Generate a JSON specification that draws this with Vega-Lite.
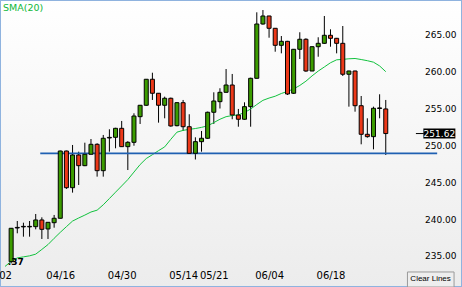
{
  "$schema": "https://vega.github.io/schema/vega-lite/v6.json",
  "width": 462,
  "height": 287,
  "autosize": {"type": "none"},
  "padding": 0,
  "background": "#ffffff",
  "title": {"text": "SMA(20)", "anchor": "start", "frame": "group", "orient": "top", "offset": -12, "dx": 3, "color": "#10b83a", "font": "DejaVu Sans", "fontSize": 9.5, "fontWeight": "normal"},
  "config": {
    "view": {"stroke": "#8fb3df", "strokeWidth": 2, "fill": {"gradient": "linear", "x1": 0, "y1": 0, "x2": 0, "y2": 1, "stops": [{"offset": 0, "color": "#ffffff"}, {"offset": 1, "color": "#ececec"}]}},
    "axis": {"title": null, "domain": false, "ticks": false, "tickSize": 0, "grid": false, "labelColor": "#000000", "labelFont": "DejaVu Sans", "labelOverlap": false, "labelBound": false}
  },
  "datasets": {
    "candles": [
      {"i":0,"open":234.23,"high":238.8,"low":234.0,"close":238.76},
      {"i":1,"open":238.80,"high":239.75,"low":238.08,"close":238.88},
      {"i":2,"open":238.95,"high":239.52,"low":237.62,"close":239.02},
      {"i":3,"open":238.95,"high":239.75,"low":237.62,"close":239.02},
      {"i":4,"open":238.98,"high":240.70,"low":238.62,"close":239.89},
      {"i":5,"open":239.89,"high":240.25,"low":237.31,"close":238.62},
      {"i":6,"open":238.67,"high":239.6,"low":237.31,"close":239.57},
      {"i":7,"open":239.52,"high":240.57,"low":238.84,"close":240.12},
      {"i":8,"open":240.12,"high":249.3,"low":240.1,"close":249.25},
      {"i":9,"open":249.25,"high":249.3,"low":244.1,"close":244.27},
      {"i":10,"open":244.27,"high":250.07,"low":243.6,"close":248.71},
      {"i":11,"open":248.71,"high":249.16,"low":244.64,"close":247.26},
      {"i":12,"open":247.26,"high":250.38,"low":247.2,"close":248.81},
      {"i":13,"open":248.81,"high":250.88,"low":248.8,"close":250.16},
      {"i":14,"open":250.16,"high":250.30,"low":245.77,"close":246.58},
      {"i":15,"open":246.58,"high":251.43,"low":245.77,"close":250.98},
      {"i":16,"open":251.02,"high":252.2,"low":249.16,"close":251.10},
      {"i":17,"open":251.11,"high":252.4,"low":249.62,"close":252.33},
      {"i":18,"open":252.33,"high":253.33,"low":249.8,"close":249.84},
      {"i":19,"open":249.84,"high":250.59,"low":246.67,"close":250.43},
      {"i":20,"open":250.43,"high":254.37,"low":249.97,"close":254.0},
      {"i":21,"open":253.91,"high":255.5,"low":252.92,"close":255.46},
      {"i":22,"open":255.46,"high":259.0,"low":255.4,"close":258.99},
      {"i":23,"open":258.99,"high":259.88,"low":256.18,"close":257.09},
      {"i":24,"open":257.09,"high":257.1,"low":253.10,"close":255.46},
      {"i":25,"open":255.46,"high":256.63,"low":253.69,"close":256.41},
      {"i":26,"open":256.41,"high":256.5,"low":252.55,"close":252.65},
      {"i":27,"open":252.69,"high":255.9,"low":252.6,"close":255.81},
      {"i":28,"open":255.81,"high":256.18,"low":251.97,"close":252.55},
      {"i":29,"open":252.55,"high":254.24,"low":248.9,"close":248.94},
      {"i":30,"open":248.94,"high":251.11,"low":248.10,"close":250.52},
      {"i":31,"open":250.52,"high":251.97,"low":249.16,"close":250.98},
      {"i":32,"open":250.98,"high":254.6,"low":250.9,"close":254.51},
      {"i":33,"open":254.51,"high":257.22,"low":252.92,"close":256.04},
      {"i":34,"open":255.95,"high":257.77,"low":255.02,"close":257.22},
      {"i":35,"open":257.22,"high":260.38,"low":257.2,"close":258.21},
      {"i":36,"open":258.21,"high":259.71,"low":253.56,"close":254.14},
      {"i":37,"open":254.14,"high":254.96,"low":252.55,"close":253.56},
      {"i":38,"open":253.56,"high":255.86,"low":253.5,"close":255.27},
      {"i":39,"open":255.27,"high":259.2,"low":252.55,"close":259.12},
      {"i":40,"open":259.12,"high":268.08,"low":259.1,"close":266.49},
      {"i":41,"open":266.49,"high":268.39,"low":266.4,"close":267.58},
      {"i":42,"open":267.58,"high":267.6,"low":264.63,"close":265.91},
      {"i":43,"open":265.91,"high":265.95,"low":262.73,"close":263.60},
      {"i":44,"open":263.60,"high":264.86,"low":262.51,"close":264.14},
      {"i":45,"open":264.14,"high":264.2,"low":256.86,"close":256.99},
      {"i":46,"open":257.09,"high":263.1,"low":257.0,"close":263.06},
      {"i":47,"open":263.06,"high":265.37,"low":261.74,"close":264.42},
      {"i":48,"open":264.42,"high":264.55,"low":260.0,"close":260.11},
      {"i":49,"open":260.11,"high":263.45,"low":260.1,"close":263.41},
      {"i":50,"open":263.41,"high":264.69,"low":262.05,"close":263.87},
      {"i":51,"open":263.87,"high":267.58,"low":263.8,"close":264.96},
      {"i":52,"open":264.96,"high":265.77,"low":263.41,"close":264.55},
      {"i":53,"open":264.55,"high":264.6,"low":262.51,"close":263.87},
      {"i":54,"open":263.87,"high":266.22,"low":259.43,"close":259.67},
      {"i":55,"open":259.67,"high":260.15,"low":255.27,"close":260.11},
      {"i":56,"open":260.11,"high":260.15,"low":254.59,"close":255.40},
      {"i":57,"open":255.40,"high":256.72,"low":250.16,"close":251.52},
      {"i":58,"open":251.52,"high":253.69,"low":251.06,"close":251.20},
      {"i":59,"open":251.20,"high":255.27,"low":249.48,"close":255.05},
      {"i":60,"open":255.02,"high":256.95,"low":253.69,"close":255.10},
      {"i":61,"open":254.96,"high":256.18,"low":248.71,"close":251.62}
    ],
    "sma": [
      {"i":-1,"sma":233.58},{"i":0,"sma":234.27},{"i":1,"sma":234.74},{"i":2,"sma":234.88},{"i":3,"sma":235.02},
      {"i":4,"sma":235.25},{"i":5,"sma":235.89},{"i":6,"sma":236.55},{"i":7,"sma":237.40},{"i":8,"sma":238.21},
      {"i":9,"sma":238.98},{"i":10,"sma":239.74},{"i":11,"sma":240.16},{"i":12,"sma":240.55},{"i":13,"sma":240.97},
      {"i":14,"sma":241.22},{"i":15,"sma":241.95},{"i":16,"sma":242.80},{"i":17,"sma":243.66},{"i":18,"sma":244.51},
      {"i":19,"sma":245.37},{"i":20,"sma":246.39},{"i":21,"sma":247.41},{"i":22,"sma":248.23},{"i":23,"sma":248.75},
      {"i":24,"sma":249.30},{"i":25,"sma":249.81},{"i":26,"sma":250.84},{"i":27,"sma":251.81},{"i":28,"sma":252.05},
      {"i":29,"sma":252.19},{"i":30,"sma":252.30},{"i":31,"sma":252.46},{"i":32,"sma":252.67},{"i":33,"sma":253.11},
      {"i":34,"sma":253.56},{"i":35,"sma":253.91},{"i":36,"sma":254.07},{"i":37,"sma":254.14},{"i":38,"sma":254.48},
      {"i":39,"sma":254.95},{"i":40,"sma":255.56},{"i":41,"sma":256.13},{"i":42,"sma":256.44},{"i":43,"sma":256.69},
      {"i":44,"sma":257.06},{"i":45,"sma":257.34},{"i":46,"sma":257.68},{"i":47,"sma":258.15},{"i":48,"sma":258.73},
      {"i":49,"sma":259.45},{"i":50,"sma":260.10},{"i":51,"sma":260.66},{"i":52,"sma":261.23},{"i":53,"sma":261.63},
      {"i":54,"sma":261.69},{"i":55,"sma":261.77},{"i":56,"sma":261.81},{"i":57,"sma":261.67},{"i":58,"sma":261.51},
      {"i":59,"sma":261.31},{"i":60,"sma":260.80},{"i":61,"sma":260.02}
    ],
    "level": [{"start": 4.74, "end": 69.37, "level": 248.93}],
    "tag": [{"price": 251.62, "label": "251.62"}],
    "lowmark": [{"price": 234.18, "label": ".37"}],
    "button": [{"label": "Clear Lines"}]
  },
  "layer": [
    {
      "data": {"name": "candles"},
      "mark": {"type": "rule", "color": "#000000", "strokeWidth": 1},
      "encoding": {
        "x": {"field": "i", "type": "quantitative", "scale": {"domain": [-1, 72.6], "nice": false, "zero": false},
          "axis": {"values": [-1, 8, 18, 28, 33, 42, 52], "labelExpr": "datum.value==-1?'02':datum.value==8?'04/16':datum.value==18?'04/30':datum.value==28?'05/14':datum.value==33?'05/21':datum.value==42?'06/04':'06/18'", "labelFlush": true, "labelFlushOffset": -3, "labelPadding": -12, "labelBaseline": "middle", "labelFontSize": 10}},
        "y": {"field": "low", "type": "quantitative", "scale": {"domain": [230.79, 269.75], "nice": false, "zero": false},
          "axis": {"orient": "right", "values": [235, 240, 245, 250, 255, 260, 265], "format": ".2f", "labelAlign": "right", "labelPadding": -6, "labelBaseline": "middle", "labelFontSize": 9, "labelFlush": false}},
        "y2": {"field": "high"}
      }
    },
    {
      "data": {"name": "sma"},
      "mark": {"type": "line", "color": "#12c23e", "strokeWidth": 1, "clip": true},
      "encoding": {
        "x": {"field": "i", "type": "quantitative"},
        "y": {"field": "sma", "type": "quantitative"}
      }
    },
    {
      "data": {"name": "level"},
      "mark": {"type": "rule", "color": "#1f60b2", "strokeWidth": 1.6},
      "encoding": {
        "x": {"field": "start", "type": "quantitative"},
        "x2": {"field": "end"},
        "y": {"field": "level", "type": "quantitative"}
      }
    },
    {
      "data": {"name": "candles"},
      "mark": {"type": "bar", "size": 4, "stroke": "#000000", "strokeWidth": 1},
      "encoding": {
        "x": {"field": "i", "type": "quantitative"},
        "y": {"field": "open", "type": "quantitative"},
        "y2": {"field": "close"},
        "color": {"condition": [
          {"test": "abs(datum.close - datum.open) < 0.1", "value": "#000000"},
          {"test": "datum.close > datum.open", "value": "#3c9c00"}
        ], "value": "#ec3818"}
      }
    },
    {
      "data": {"name": "lowmark"},
      "mark": {"type": "text", "align": "left", "baseline": "middle", "font": "DejaVu Sans", "fontSize": 9, "fontWeight": "bold", "color": "#000000"},
      "encoding": {
        "x": {"datum": -0.55, "type": "quantitative"},
        "y": {"field": "price", "type": "quantitative"},
        "text": {"field": "label"}
      }
    },
    {
      "data": {"name": "tag"},
      "mark": {"type": "rule", "color": "#000000", "strokeWidth": 1},
      "encoding": {
        "x": {"datum": 65.91, "type": "quantitative"},
        "x2": {"datum": 67.19},
        "y": {"field": "price", "type": "quantitative"}
      }
    },
    {
      "data": {"name": "tag"},
      "mark": {"type": "tick", "orient": "horizontal", "size": 32, "thickness": 10, "color": "#000000", "opacity": 1},
      "encoding": {
        "x": {"datum": 69.73, "type": "quantitative"},
        "y": {"field": "price", "type": "quantitative"}
      }
    },
    {
      "data": {"name": "tag"},
      "mark": {"type": "text", "align": "center", "baseline": "middle", "font": "DejaVu Sans", "fontSize": 9, "color": "#ffffff"},
      "encoding": {
        "x": {"datum": 69.73, "type": "quantitative"},
        "y": {"field": "price", "type": "quantitative"},
        "text": {"field": "label"}
      }
    },
    {
      "data": {"name": "button"},
      "mark": {"type": "rect", "fill": "#eeeeee", "stroke": "#9a9a9a", "strokeWidth": 1},
      "encoding": {
        "x": {"datum": 64.53, "type": "quantitative"},
        "x2": {"datum": 72.12},
        "y": {"datum": 230.79, "type": "quantitative"},
        "y2": {"datum": 232.83}
      }
    },
    {
      "data": {"name": "button"},
      "mark": {"type": "text", "align": "center", "baseline": "middle", "font": "Liberation Sans", "fontSize": 8, "color": "#000000"},
      "encoding": {
        "x": {"datum": 68.3, "type": "quantitative"},
        "y": {"datum": 231.81, "type": "quantitative"},
        "text": {"field": "label"}
      }
    }
  ]
}
